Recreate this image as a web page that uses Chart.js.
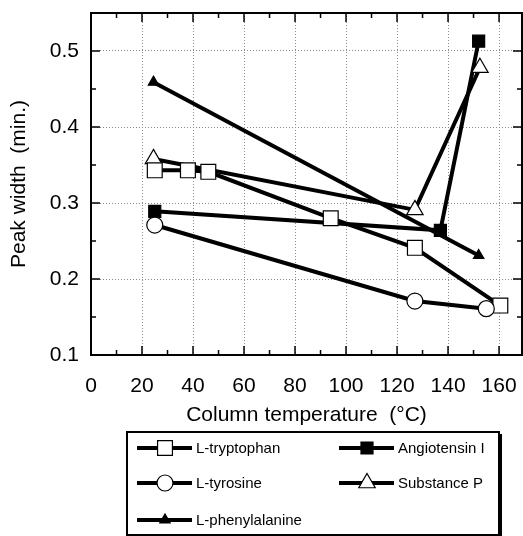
<!DOCTYPE html>
<html>
<head>
<meta charset="utf-8">
<script src="https://cdn.jsdelivr.net/npm/chart.js@4/dist/chart.umd.min.js"></script>
<style>
  html, body { margin: 0; padding: 0; background: #fff; }
  canvas { display: block; }
</style>
</head>
<body>
<canvas id="peakChart" width="523" height="536"></canvas>
<script>
// values: peak width (min.) vs column temperature (°C)
const tryptophanTemp = [25, 38, 46, 94, 127, 160.5];
const tryptophanWidth = [0.343, 0.343, 0.341, 0.280, 0.241, 0.165];

const tyrosineTemp = [25, 127, 155];
const tyrosineWidth = [0.271, 0.171, 0.161];

const phenylalanineTemp = [24.5, 152];
const phenylalanineWidth = [0.459, 0.231];

const angiotensinTemp = [25, 137, 152];
const angiotensinWidth = [0.289, 0.264, 0.513];

const substancePTemp = [24.5, 127, 152.5];
const substancePWidth = [0.358, 0.291, 0.478];

const seriesNames = ['L-tryptophan', 'L-tyrosine', 'L-phenylalanine', 'Angiotensin I', 'Substance P'];

const xTitle = 'Column temperature  (°C)';
const yTitle = 'Peak width  (min.)';

const FONT = "'Liberation Sans', Arial, Helvetica, sans-serif";

function toPoints(xs, ys) {
    return xs.map((x, i) => ({ x: x, y: ys[i] }));
}

function series(label, xs, ys, style) {
    return Object.assign({
        label: label,
        data: toPoints(xs, ys),
        showLine: true,
        borderColor: '#000',
        borderWidth: 4,
        pointBorderColor: '#000',
        pointBorderWidth: 1.2,
        pointHoverRadius: 0
    }, style);
}

const datasets = [
    series(seriesNames[1], tyrosineTemp, tyrosineWidth, { pointStyle: 'circle', pointRadius: 8, pointBackgroundColor: '#fff' }),
    series(seriesNames[0], tryptophanTemp, tryptophanWidth, { pointStyle: 'rect', pointRadius: 10.5, pointBackgroundColor: '#fff' }),
    series(seriesNames[4], substancePTemp, substancePWidth, { pointStyle: 'triangle', pointRadius: 9.5, pointBackgroundColor: '#fff' }),
    series(seriesNames[3], angiotensinTemp, angiotensinWidth, { pointStyle: 'rect', pointRadius: 8.5, pointBackgroundColor: '#000' }),
    series(seriesNames[2], phenylalanineTemp, phenylalanineWidth, { pointStyle: 'triangle', pointRadius: 6, pointBackgroundColor: '#000' })
];

// legend grid: [name, column, row]
const legendCells = [
    ['L-tryptophan', 0, 0], ['Angiotensin I', 1, 0],
    ['L-tyrosine', 0, 1], ['Substance P', 1, 1],
    ['L-phenylalanine', 0, 2]
];

function isMajorY(v) {
    return Math.round(v * 100) % 10 === 0;
}

// keep tick labels from shrinking the plot area
function noPadding(scale) {
    scale.paddingLeft = scale.paddingRight = scale.paddingTop = scale.paddingBottom = 0;
}

const frameAndLegend = {
    id: 'frameAndLegend',
    afterDraw(chart) {
        const { ctx, chartArea: a, scales: { x, y } } = chart;
        ctx.save();
        ctx.strokeStyle = '#000';
        ctx.fillStyle = '#000';

        const seg = (x1, y1, x2, y2) => {
            ctx.beginPath();
            ctx.moveTo(x1, y1);
            ctx.lineTo(x2, y2);
            ctx.stroke();
        };

        // frame
        ctx.lineWidth = 2;
        ctx.strokeRect(a.left, a.top, a.right - a.left, a.bottom - a.top);

        // inward ticks on all four sides
        ctx.lineWidth = 1.5;
        x.ticks.forEach(t => {
            if (Math.round(t.value) % 10 !== 0) return;
            const px = x.getPixelForValue(t.value);
            const len = Math.round(t.value) % 20 === 0 ? 9 : 5;
            seg(px, a.bottom, px, a.bottom - len);
            seg(px, a.top, px, a.top + len);
        });
        y.ticks.forEach(t => {
            const py = y.getPixelForValue(t.value);
            const len = isMajorY(t.value) ? 9 : 5;
            seg(a.left, py, a.left + len, py);
            seg(a.right, py, a.right - len, py);
        });

        // legend box
        const bx = 127, by = 432, bw = 372, bh = 103;
        ctx.lineWidth = 2;
        ctx.strokeRect(bx, by, bw, bh);
        ctx.fillRect(bx + bw, by + 2, 3, bh);

        const colX = [137, 339];
        const rowY = [448, 483, 520];
        ctx.font = '15px ' + FONT;
        ctx.textBaseline = 'middle';
        ctx.textAlign = 'left';
        legendCells.forEach(([name, col, row]) => {
            const ds = datasets.find(d => d.label === name);
            const x0 = colX[col], yy = rowY[row];
            ctx.strokeStyle = '#000';
            ctx.lineWidth = 4;
            seg(x0, yy, x0 + 55, yy);
            ctx.fillStyle = ds.pointBackgroundColor;
            ctx.lineWidth = ds.pointBorderWidth;
            Chart.helpers.drawPoint(ctx, {
                pointStyle: ds.pointStyle,
                radius: ds.pointRadius,
                rotation: 0,
                borderWidth: ds.pointBorderWidth
            }, x0 + 28, yy);
            ctx.fillStyle = '#000';
            ctx.fillText(name, x0 + 59, yy + 1);
        });
        ctx.restore();
    }
};

new Chart(document.getElementById('peakChart'), {
    type: 'scatter',
    data: { datasets: datasets },
    options: {
        responsive: false,
        animation: false,
        events: [],
        layout: { autoPadding: false, padding: { top: 13, right: 1, bottom: 101, left: 0 } },
        plugins: {
            legend: { display: false },
            tooltip: { enabled: false }
        },
        scales: {
            x: {
                type: 'linear',
                min: 0,
                max: 169,
                afterFit(scale) {
                    scale.height = 80;
                    noPadding(scale);
                },
                border: { display: false, dash: [1, 2] },
                grid: {
                    drawTicks: false,
                    lineWidth: 1,
                    color: c => (c.tick && Math.round(c.tick.value) % 20 === 0) ? '#8a8a8a' : 'transparent'
                },
                ticks: {
                    stepSize: 10,
                    includeBounds: false,
                    autoSkip: false,
                    maxRotation: 0,
                    padding: 19,
                    color: '#000',
                    font: { family: FONT, size: 21 },
                    callback: v => (Math.round(v) % 20 === 0 && v <= 160) ? String(Math.round(v)) : ''
                },
                title: {
                    display: true,
                    text: xTitle,
                    color: '#000',
                    font: { family: FONT, size: 21 },
                    padding: { top: 0, bottom: 7 }
                }
            },
            y: {
                min: 0.1,
                max: 0.55,
                afterFit(scale) {
                    scale.width = 91;
                    noPadding(scale);
                },
                border: { display: false, dash: [1, 2] },
                grid: {
                    drawTicks: false,
                    lineWidth: 1,
                    color: c => (c.tick && isMajorY(c.tick.value)) ? '#8a8a8a' : 'transparent'
                },
                ticks: {
                    stepSize: 0.05,
                    autoSkip: false,
                    padding: 12,
                    color: '#000',
                    font: { family: FONT, size: 21 },
                    callback: v => isMajorY(v) ? (Math.round(v * 100) / 100).toFixed(1) : ''
                },
                title: {
                    display: true,
                    text: yTitle,
                    color: '#000',
                    font: { family: FONT, size: 21 },
                    padding: { top: 7, bottom: 0 }
                }
            }
        }
    },
    plugins: [frameAndLegend]
});
</script>
</body>
</html>
